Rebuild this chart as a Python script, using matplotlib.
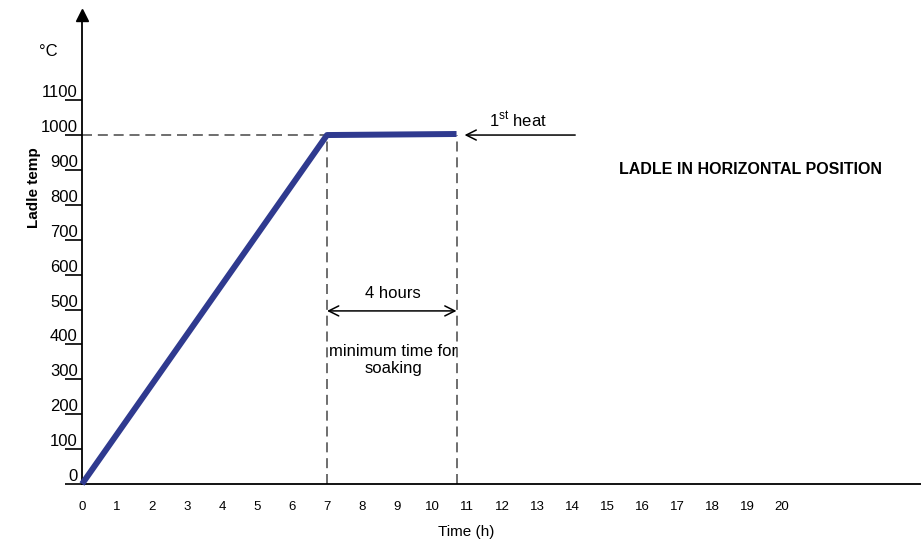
"""
Ladle heating curve: temperature ramp to 1000 C then 4 h soak.
"""

import matplotlib
matplotlib.use('Agg')
import matplotlib.pyplot as plt

plt.rcParams['font.family'] = ['Liberation Sans', 'DejaVu Sans']
plt.rcParams['mathtext.fontset'] = 'custom'
plt.rcParams['mathtext.rm'] = 'Liberation Sans'

# ── data ──
time_h = [0, 7, 10.7]
temp_c = [0, 1000, 1003]
soak_start, soak_end = 7, 10.7
soak_temp = 1000
x_ticks = list(range(0, 21))
y_ticks = list(range(0, 1200, 100))

line_color = '#2F3A8F'
dash_color = '#555555'

fig = plt.figure(figsize=(9.21, 5.42), dpi=100)
ax = fig.add_axes([82 / 921, 58 / 542, 1 - 82 / 921, (484 - 15) / 542])
ax.set_xlim(0, 23.97)
ax.set_ylim(0, 1344)

# ramp + soak
ax.plot(time_h, temp_c, color=line_color, linewidth=4.3, solid_capstyle='butt',
        zorder=4, clip_on=False)

# dashed guides
ax.plot([0, soak_start], [soak_temp, soak_temp], color=dash_color, linewidth=1.2,
        linestyle=(0, (6, 3.5)), zorder=2)
for xv in (soak_start, soak_end):
    ax.plot([xv, xv], [0, soak_temp], color=dash_color, linewidth=1.2,
            linestyle=(0, (6, 3.5)), zorder=2)

# spines
ax.spines['top'].set_visible(False)
ax.spines['right'].set_visible(False)
ax.spines['left'].set_linewidth(1.3)
ax.spines['bottom'].set_linewidth(1.3)
ax.plot(0, 1, marker='^', markersize=8, color='black', transform=ax.transAxes,
        clip_on=False, zorder=5)

# ticks
ax.set_xticks(x_ticks)
ax.set_xticklabels([str(v) for v in x_ticks], fontsize=9.5)
ax.tick_params(axis='x', length=0, pad=12)
ax.set_yticks(y_ticks)
ax.set_yticklabels([str(v) for v in y_ticks], fontsize=12)
ax.tick_params(axis='y', direction='out', length=12.5, width=1.2, pad=-9.5)
for lbl in ax.get_yticklabels():
    lbl.set_verticalalignment('bottom')

# labels
ax.text(-0.97, 1238, '°C', fontsize=12, ha='center', va='center', clip_on=False)
fig.text(34 / 921, 1 - 188 / 542, 'Ladle temp', fontsize=11, fontweight='bold',
         rotation=90, ha='center', va='center')
ax.text(10.97, -137, 'Time (h)', fontsize=11, ha='center', va='center', clip_on=False)

ax.text(19.1, 900, 'LADLE IN HORIZONTAL POSITION', fontsize=11.5, fontweight='bold',
        ha='center', va='center')

# 1st heat arrow
ax.annotate('', xy=(soak_end + 0.15, soak_temp), xytext=(14.17, soak_temp),
            arrowprops=dict(arrowstyle='->', color='black', lw=1.1,
                            mutation_scale=18))
ax.text(12.46, 1043, r'1$^{\mathrm{st}}$ heat', fontsize=12, ha='center', va='center')

# soak duration
ax.annotate('', xy=(soak_start, 496), xytext=(soak_end, 496),
            arrowprops=dict(arrowstyle='<->', color='black', lw=1.1,
                            mutation_scale=18, shrinkA=0, shrinkB=0))
ax.text(8.89, 547, '4 hours', fontsize=12, ha='center', va='center')
ax.text(8.89, 355, 'minimum time for\nsoaking', fontsize=12, ha='center',
        va='center', linespacing=1.15)

plt.savefig('out.png', dpi=100)
